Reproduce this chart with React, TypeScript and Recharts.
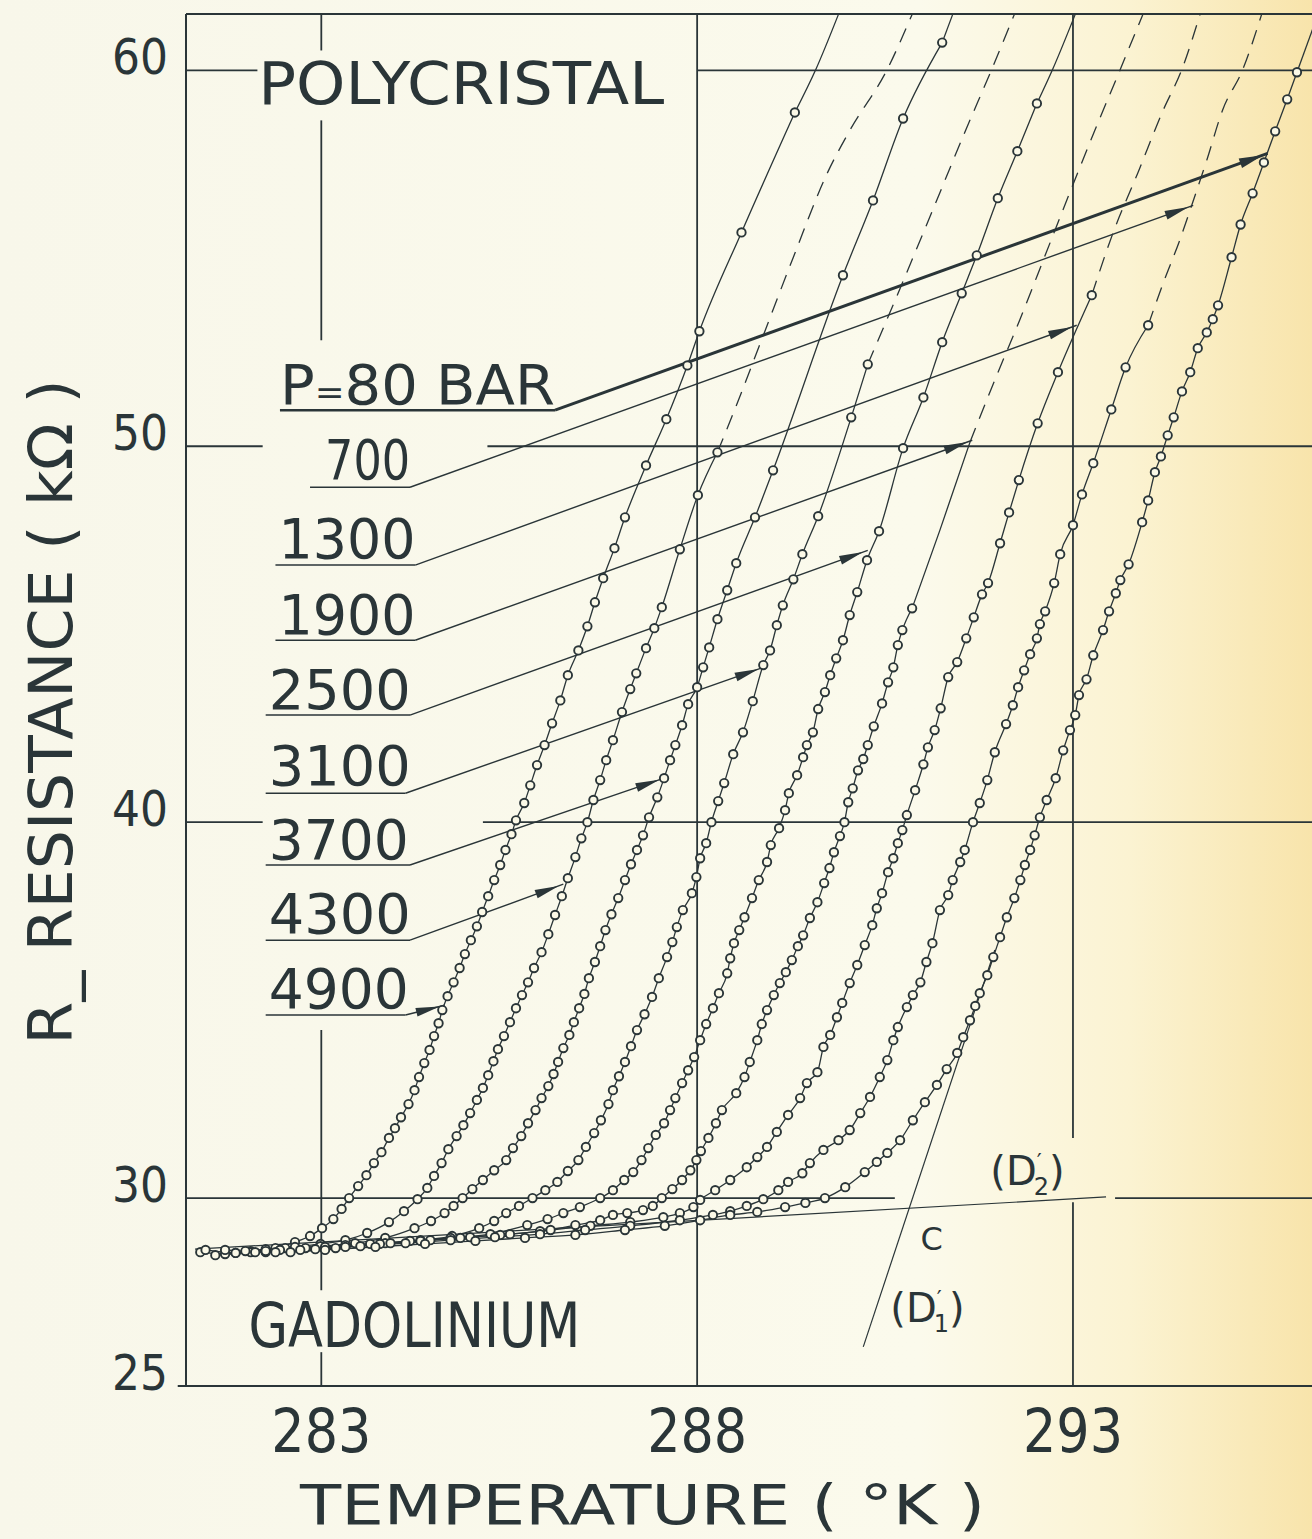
import React from 'react'
import {
  ComposedChart,
  Line,
  XAxis,
  YAxis,
  ReferenceLine,
  ReferenceDot,
  Label,
} from 'recharts'

const INK = '#2a3538'
const PAPER = '#fbf9e7'
const FONT = '"DejaVu Sans", "Liberation Sans", sans-serif'

// axes
const T_MIN = 281.2
const T_MAX = 296.18
const R_MIN = 25
const R_MAX = 61.5
const xTicks = [283, 288, 293]
const yTicks = [25, 30, 40, 50, 60]

// measured points [T (K), R (kOhm)], one list per pressure (bar)
const p4900 = [
  [281.39, 28.56], [281.72, 28.51], [282.06, 28.59], [282.39, 28.67], [282.65, 28.83], [282.85, 28.99],
  [283.01, 29.2], [283.16, 29.44], [283.27, 29.71], [283.37, 30.0], [283.49, 30.32], [283.6, 30.61],
  [283.7, 30.93], [283.8, 31.22], [283.9, 31.6], [283.98, 31.86], [284.06, 32.15], [284.16, 32.5],
  [284.24, 32.87], [284.3, 33.22], [284.37, 33.59], [284.44, 33.94], [284.5, 34.31], [284.56, 34.65],
  [284.61, 35.0], [284.68, 35.37], [284.76, 35.74], [284.84, 36.12], [284.91, 36.49], [284.99, 36.86],
  [285.07, 37.23], [285.14, 37.61], [285.22, 38.03], [285.3, 38.46], [285.38, 38.86], [285.45, 39.26],
  [285.53, 39.68], [285.59, 40.05], [285.7, 40.51], [285.78, 40.98], [285.87, 41.52], [285.97, 42.05],
  [286.07, 42.63], [286.18, 43.24], [286.28, 43.91], [286.42, 44.57], [286.54, 45.21], [286.64, 45.85],
  [286.75, 46.49], [286.9, 47.29], [287.04, 48.11], [287.32, 49.49], [287.59, 50.72], [287.87, 52.15],
  [288.03, 53.06], [288.59, 55.69], [289.3, 58.88],
]
const p4300 = [
  [281.46, 28.62], [281.86, 28.54], [282.26, 28.64], [282.65, 28.7], [282.99, 28.78], [283.32, 28.88],
  [283.61, 29.07], [283.9, 29.36], [284.1, 29.65], [284.28, 29.97], [284.41, 30.27], [284.5, 30.59],
  [284.6, 30.93], [284.69, 31.3], [284.8, 31.65], [284.89, 31.94], [284.98, 32.26], [285.07, 32.61],
  [285.15, 32.93], [285.22, 33.27], [285.29, 33.64], [285.35, 33.96], [285.43, 34.31], [285.51, 34.68],
  [285.59, 35.05], [285.67, 35.4], [285.75, 35.74], [285.83, 36.12], [285.93, 36.54], [286.02, 37.02],
  [286.11, 37.53], [286.2, 38.03], [286.28, 38.51], [286.38, 39.07], [286.46, 39.57], [286.54, 40.0],
  [286.62, 40.59], [286.71, 41.12], [286.79, 41.65], [286.88, 42.18], [287.0, 42.93], [287.11, 43.54],
  [287.19, 43.96], [287.32, 44.63], [287.43, 45.16], [287.53, 45.72], [287.77, 47.26], [288.01, 48.7],
  [288.27, 49.84],
]
const p3700 = [
  [281.59, 28.48], [282.06, 28.56], [282.52, 28.67], [282.99, 28.72], [283.45, 28.8], [283.85, 28.94],
  [284.24, 29.2], [284.46, 29.39], [284.64, 29.6], [284.76, 29.79], [284.88, 30.0], [285.01, 30.24],
  [285.15, 30.48], [285.3, 30.74], [285.46, 31.01], [285.55, 31.33], [285.66, 31.65], [285.75, 31.99],
  [285.85, 32.34], [285.93, 32.66], [286.02, 32.98], [286.09, 33.3], [286.15, 33.62], [286.22, 33.99],
  [286.3, 34.34], [286.36, 34.68], [286.43, 35.05], [286.5, 35.43], [286.56, 35.85], [286.64, 36.28],
  [286.71, 36.7], [286.78, 37.13], [286.86, 37.55], [286.95, 37.98], [287.04, 38.46], [287.12, 38.88],
  [287.2, 39.26], [287.28, 39.65], [287.36, 40.13], [287.47, 40.66], [287.56, 41.17], [287.64, 41.65],
  [287.71, 42.05], [287.8, 42.58], [287.88, 43.14], [288.0, 43.59], [288.08, 44.12], [288.16, 44.65],
  [288.27, 45.4], [288.4, 46.17], [288.52, 46.89], [288.77, 48.11], [289.01, 49.36], [289.94, 54.55],
  [290.34, 56.54], [290.74, 58.72], [291.26, 60.74],
]
const p3100 = [
  [281.72, 28.62], [282.26, 28.56], [282.79, 28.67], [283.32, 28.75], [283.85, 28.8], [284.32, 28.88],
  [284.74, 28.99], [285.1, 29.2], [285.3, 29.39], [285.46, 29.6], [285.63, 29.79], [285.81, 30.0],
  [285.98, 30.21], [286.14, 30.43], [286.28, 30.72], [286.42, 31.01], [286.52, 31.36], [286.63, 31.73],
  [286.72, 32.07], [286.82, 32.5], [286.88, 32.87], [286.96, 33.24], [287.04, 33.62], [287.12, 34.04],
  [287.2, 34.47], [287.3, 34.89], [287.4, 35.35], [287.49, 35.85], [287.6, 36.41], [287.67, 36.81],
  [287.73, 37.21], [287.81, 37.66], [287.93, 38.11], [287.99, 38.54], [288.04, 39.04], [288.12, 39.44],
  [288.19, 40.0], [288.28, 40.56], [288.36, 41.04], [288.48, 41.81], [288.61, 42.39], [288.74, 43.22],
  [288.88, 44.18], [288.97, 44.57], [289.06, 45.24], [289.14, 45.77], [289.28, 46.46], [289.4, 47.13],
  [289.61, 48.14], [290.05, 50.77], [290.27, 52.18],
]
const p2500 = [
  [281.86, 28.54], [282.45, 28.62], [283.05, 28.7], [283.65, 28.78], [284.18, 28.86], [284.72, 28.94],
  [285.25, 29.04], [285.74, 29.28], [286.01, 29.44], [286.22, 29.6], [286.44, 29.76], [286.71, 30.0],
  [286.88, 30.21], [287.03, 30.48], [287.15, 30.69], [287.26, 31.01], [287.35, 31.33], [287.45, 31.68],
  [287.56, 31.99], [287.64, 32.34], [287.71, 32.66], [287.8, 33.06], [287.88, 33.4], [287.96, 33.75],
  [288.04, 34.2], [288.12, 34.63], [288.21, 35.05], [288.29, 35.45], [288.4, 35.98], [288.44, 36.38],
  [288.49, 36.78], [288.56, 37.13], [288.63, 37.47], [288.73, 37.98], [288.82, 38.46], [288.93, 38.94],
  [288.98, 39.39], [289.09, 39.84], [289.17, 40.32], [289.22, 40.77], [289.33, 41.25], [289.41, 41.73],
  [289.46, 42.05], [289.54, 42.39], [289.61, 43.01], [289.7, 43.46], [289.77, 43.91], [289.85, 44.36],
  [289.94, 44.84], [290.03, 45.51], [290.13, 46.12], [290.26, 46.97], [290.42, 47.74], [290.74, 49.95],
  [291.01, 51.3], [291.26, 52.77], [291.52, 54.07], [291.72, 55.08], [292.0, 56.6], [292.26, 57.85],
  [292.52, 59.12],
]
const p1900 = [
  [281.99, 28.59], [282.59, 28.56], [283.19, 28.67], [283.78, 28.78], [284.32, 28.86], [284.85, 28.94],
  [285.38, 29.02], [285.91, 29.12], [286.38, 29.28], [286.71, 29.41], [286.88, 29.55], [287.07, 29.6],
  [287.28, 29.68], [287.41, 29.79], [287.53, 30.0], [287.67, 30.24], [287.8, 30.48], [287.91, 30.74],
  [287.99, 31.01], [288.05, 31.25], [288.15, 31.6], [288.25, 31.99], [288.33, 32.34], [288.52, 32.79],
  [288.63, 33.22], [288.7, 33.62], [288.8, 34.2], [288.86, 34.63], [288.93, 35.0], [289.02, 35.4],
  [289.1, 35.72], [289.18, 36.01], [289.26, 36.33], [289.34, 36.7], [289.41, 36.99], [289.5, 37.45],
  [289.6, 37.87], [289.69, 38.38], [289.76, 38.78], [289.82, 39.2], [289.9, 39.63], [289.96, 40.0],
  [290.01, 40.53], [290.07, 40.9], [290.14, 41.38], [290.21, 41.68], [290.27, 42.05], [290.35, 42.55],
  [290.46, 43.16], [290.54, 43.72], [290.61, 44.12], [290.67, 44.71], [290.73, 45.11], [290.86, 45.69],
]
const p1300 = [
  [282.12, 28.56], [282.72, 28.62], [283.32, 28.7], [283.92, 28.8], [284.45, 28.88], [284.98, 28.96],
  [285.51, 29.04], [286.05, 29.15], [286.58, 29.26], [287.11, 29.36], [287.55, 29.49], [287.77, 29.6],
  [287.95, 29.76], [288.04, 29.95], [288.24, 30.21], [288.44, 30.48], [288.66, 30.82], [288.8, 31.09],
  [288.93, 31.36], [289.06, 31.76], [289.21, 32.21], [289.37, 32.66], [289.46, 33.06], [289.6, 33.35],
  [289.68, 34.02], [289.77, 34.34], [289.86, 34.81], [289.93, 35.19], [290.03, 35.72], [290.13, 36.2],
  [290.23, 36.73], [290.33, 37.26], [290.39, 37.71], [290.46, 38.11], [290.54, 38.67], [290.61, 39.04],
  [290.67, 39.44], [290.73, 39.79], [290.79, 40.19], [290.9, 40.85], [291.01, 41.54], [291.07, 41.99],
  [291.16, 42.45], [291.24, 43.03], [291.34, 43.86], [291.46, 44.26], [291.58, 44.89], [291.68, 45.45],
  [291.79, 46.06], [291.87, 46.36], [292.03, 47.42], [292.15, 48.24], [292.28, 49.1], [292.53, 50.61],
  [292.8, 51.97], [293.25, 54.02],
]
const p700 = [
  [282.26, 28.59], [282.92, 28.64], [283.52, 28.72], [284.12, 28.8], [284.72, 28.88], [285.31, 28.96],
  [285.91, 29.04], [286.51, 29.15], [287.11, 29.26], [287.77, 29.41], [288.21, 29.55], [288.44, 29.65],
  [288.66, 29.79], [288.88, 29.97], [289.08, 30.21], [289.21, 30.43], [289.4, 30.66], [289.5, 30.93],
  [289.68, 31.28], [289.88, 31.54], [290.03, 31.81], [290.17, 32.26], [290.3, 32.69], [290.43, 33.22],
  [290.53, 33.67], [290.61, 34.2], [290.67, 34.55], [290.79, 35.08], [290.87, 35.4], [290.97, 35.74],
  [291.05, 36.28], [291.13, 36.78], [291.23, 37.66], [291.34, 38.06], [291.4, 38.46], [291.5, 38.94],
  [291.56, 39.26], [291.67, 40.0], [291.76, 40.51], [291.86, 41.12], [291.96, 41.86], [292.11, 42.61],
  [292.2, 43.11], [292.27, 43.59], [292.35, 44.04], [292.43, 44.47], [292.52, 44.89], [292.56, 45.27],
  [292.63, 45.61], [292.75, 46.36], [292.83, 47.13], [293.0, 47.9], [293.12, 48.72], [293.27, 49.55],
  [293.51, 50.98], [293.7, 52.1], [294.0, 53.22],
]
const p80 = [
  [282.39, 28.56], [283.05, 28.62], [283.72, 28.7], [284.38, 28.78], [285.05, 28.86], [285.71, 28.94],
  [286.38, 29.02], [287.04, 29.15], [287.57, 29.26], [288.04, 29.41], [288.44, 29.55], [288.8, 29.63],
  [289.17, 29.76], [289.44, 29.87], [289.7, 30.0], [289.97, 30.29], [290.23, 30.69], [290.39, 30.96],
  [290.53, 31.2], [290.7, 31.54], [290.87, 32.07], [291.03, 32.55], [291.19, 33.01], [291.32, 33.43],
  [291.46, 33.86], [291.54, 34.28], [291.63, 34.73], [291.7, 35.11], [291.76, 35.45], [291.86, 35.93],
  [291.94, 36.41], [292.03, 36.94], [292.12, 37.47], [292.22, 37.98], [292.3, 38.46], [292.36, 38.86],
  [292.43, 39.26], [292.49, 39.65], [292.56, 40.13], [292.65, 40.59], [292.77, 41.17], [292.87, 41.91],
  [292.96, 42.45], [293.03, 42.85], [293.08, 43.38], [293.18, 43.8], [293.27, 44.44], [293.4, 45.11],
  [293.48, 45.61], [293.57, 46.09], [293.63, 46.44], [293.74, 46.86], [293.92, 47.98], [294.0, 48.56],
  [294.09, 49.31], [294.17, 49.73], [294.26, 50.29], [294.34, 50.77], [294.45, 51.46], [294.56, 51.97],
  [294.66, 52.61], [294.78, 53.03], [294.86, 53.38], [294.93, 53.75], [295.11, 55.03], [295.23, 55.9],
  [295.39, 56.73], [295.54, 57.55], [295.69, 58.38], [295.85, 59.23], [295.98, 59.95],
]

// drawn continuations above the last measured point
const tail4900 = [[289.3, 58.88], [289.58, 60.03], [289.88, 61.49]]
const tail3700 = [[291.26, 60.74], [291.4, 61.49]]
const tail2500 = [[292.52, 59.12], [292.73, 60.03], [293.03, 61.49]]
const tail1900 = [[290.86, 45.69], [291.23, 47.77], [291.63, 50.11]]
const tail80 = [[295.98, 59.95], [296.26, 61.49]]
const dash4300 = [[288.27, 49.84], [288.57, 51.33], [288.84, 52.74], [289.28, 55.03], [289.73, 57.26], [290.03, 58.4], [290.53, 60.03], [290.86, 61.49]]
const dash3100 = [[290.27, 52.18], [290.7, 54.2], [291.16, 56.41], [291.56, 58.35], [291.92, 60.03], [292.22, 61.49]]
const dash1900 = [[291.63, 50.11], [291.96, 51.76], [292.3, 53.4], [292.63, 55.08], [292.96, 56.76], [293.29, 58.4], [293.63, 60.03], [293.93, 61.49]]
const dash1300 = [[293.25, 54.02], [293.53, 55.66], [293.86, 57.26], [294.2, 58.94], [294.45, 60.03], [294.69, 61.49]]
const dash700 = [[294.0, 53.22], [294.2, 54.34], [294.42, 55.48], [294.58, 56.41], [294.78, 57.61], [294.99, 58.94], [295.26, 60.03], [295.51, 61.49]]

// construction lines
const lineD2 = [[281.32, 28.64], [293.44, 30.03]]
const lineD1 = [[290.21, 26.04], [291.96, 36.6]]

// pressure labels: text, underline (t0..t1 at r), arrow tip
const pressures = ['80', '700', '1300', '1900', '2500', '3100', '3700', '4300', '4900']
const labelT = [282.45, 283.05, 282.43, 282.43, 282.3, 282.3, 282.3, 282.3, 282.3]
const labelR = [51.12, 49.12, 47.02, 45.0, 43.01, 40.99, 39.02, 37.05, 35.05]
const labelW = [275, 85, 137, 137, 142, 142, 140, 142, 140]
const lineR = [50.96, 48.91, 46.84, 44.84, 42.85, 40.77, 38.86, 36.86, 34.87]
const lineT0 = [282.45, 282.85, 282.39, 282.39, 282.26, 282.26, 282.26, 282.26, 282.26]
const lineT1 = [286.11, 284.18, 284.25, 284.25, 284.18, 284.12, 284.18, 284.18, 284.12]
const tipT = [295.59, 294.6, 293.05, 291.66, 290.27, 288.88, 287.56, 286.22, 284.64]
const tipR = [57.79, 56.41, 53.22, 50.16, 47.23, 44.12, 41.17, 38.35, 35.13]

// grid pieces (broken where the lettering sits)
const hGrid = [
  [60, 281.2, 282.15], [60, 288.01, 296.18],
  [50, 281.2, 282.22], [50, 285.21, 296.18],
  [40, 281.2, 282.22], [40, 285.15, 296.18],
  [30, 281.2, 290.63], [30, 293.56, 296.18],
]
const vGrid = [
  [283, 60.53, 61.5], [283, 52.82, 58.67], [283, 27.55, 34.47], [283, 25, 25.9],
  [288, 25, 61.5],
  [293, 25, 29.89], [293, 31.6, 61.5],
]

const toPts = (a: number[][]) => a.map(([t, r]) => ({ t, r }))

const measured = [p4900, p4300, p3700, p3100, p2500, p1900, p1300, p700, p80].map(toPts)
const solidTails = [tail4900, tail3700, tail2500, tail1900, tail80].map(toPts)
const dashedTails = [dash4300, dash3100, dash1900, dash1300, dash700].map(toPts)

const XTick = (p: any) => (
  <text x={p.x} y={p.y + 66} textAnchor="middle" fontSize={60} fontFamily={FONT} fill={INK}
    textLength={100} lengthAdjust="spacingAndGlyphs">
    {p.payload.value}
  </text>
)

const YTick = (p: any) => (
  <text x={p.x} y={p.y + 4} textAnchor="end" fontSize={50} fontFamily={FONT} fill={INK}
    textLength={56} lengthAdjust="spacingAndGlyphs">
    {p.payload.value}
  </text>
)

const XTitle = () => (
  <text x={300} y={1524} fontSize={56} fontFamily={FONT} fill={INK} textLength={685} lengthAdjust="spacingAndGlyphs">
    TEMPERATURE  ( °K )
  </text>
)

const YTitle = () => (
  <text transform="translate(72,712) rotate(-90)" textAnchor="middle" fontSize={60} fontFamily={FONT} fill={INK}
    textLength={665} lengthAdjust="spacingAndGlyphs">
    R_ RESISTANCE  ( kΩ )
  </text>
)

const arrowShape = (width: number) => (p: any) => {
  const { x1, y1, x2, y2 } = p
  const dx = x2 - x1
  const dy = y2 - y1
  const len = Math.hypot(dx, dy) || 1
  const ux = dx / len
  const uy = dy / len
  const tx = x2 - ux * 5
  const ty = y2 - uy * 5
  const bx = tx - ux * 24
  const by = ty - uy * 24
  const hw = width > 2 ? 5 : 4.5
  return (
    <g>
      <line x1={x1} y1={y1} x2={x2} y2={y2} stroke={INK} strokeWidth={width} />
      <polygon points={`${tx},${ty} ${bx - uy * hw},${by + ux * hw} ${bx + uy * hw},${by - ux * hw}`} fill={INK} />
    </g>
  )
}

const textShape = (label: React.ReactNode, size: number, width?: number) => (p: any) => (
  <text x={p.cx} y={p.cy} fontSize={size} fontFamily={FONT} fill={INK}
    textLength={width} lengthAdjust={width ? 'spacingAndGlyphs' : undefined}>
    {label}
  </text>
)

export default function App() {
  return (
    <div
      style={{
        position: 'absolute',
        left: 0,
        top: 0,
        width: 1312,
        height: 1539,
        overflow: 'hidden',
        background: 'linear-gradient(to right, #f8f7ea 0%, #fbfaec 70%, #fbf3d2 86%, #f8e4ab 100%)',
      }}
    >
      <ComposedChart width={1312} height={1539} margin={{ top: 14, right: 0, bottom: 93, left: 106 }}>
        <XAxis type="number" dataKey="t" domain={[T_MIN, T_MAX]} ticks={xTicks} allowDataOverflow
          axisLine={false} tickLine={false} tickSize={0} tickMargin={0} height={60} interval={0} tick={XTick}>
          <Label content={XTitle} />
        </XAxis>
        <YAxis type="number" dataKey="r" domain={[R_MIN, R_MAX]} ticks={yTicks} allowDataOverflow
          axisLine={false} tickLine={false} tickSize={0} tickMargin={18} width={80} interval={0} tick={YTick}>
          <Label content={YTitle} />
        </YAxis>

        {/* frame */}
        <ReferenceLine segment={[{ x: T_MIN, y: R_MIN }, { x: T_MIN, y: R_MAX }]} stroke={INK} strokeWidth={2} ifOverflow="visible" />
        <ReferenceLine segment={[{ x: T_MIN, y: R_MAX }, { x: T_MAX, y: R_MAX }]} stroke={INK} strokeWidth={2} ifOverflow="visible" />
        <ReferenceLine segment={[{ x: 281.09, y: R_MIN }, { x: T_MAX, y: R_MIN }]} stroke={INK} strokeWidth={2.2} ifOverflow="visible" />

        {hGrid.map(([r, a, b], i) => (
          <ReferenceLine key={`h${i}`} segment={[{ x: a, y: r }, { x: b, y: r }]} stroke={INK} strokeWidth={1.8} ifOverflow="visible" />
        ))}
        {vGrid.map(([t, a, b], i) => (
          <ReferenceLine key={`v${i}`} segment={[{ x: t, y: a }, { x: t, y: b }]} stroke={INK} strokeWidth={1.8} ifOverflow="visible" />
        ))}

        {/* D'2 and D'1 */}
        <ReferenceLine segment={[{ x: lineD2[0][0], y: lineD2[0][1] }, { x: lineD2[1][0], y: lineD2[1][1] }]} stroke={INK} strokeWidth={1.2} ifOverflow="visible" />
        <ReferenceLine segment={[{ x: lineD1[0][0], y: lineD1[0][1] }, { x: lineD1[1][0], y: lineD1[1][1] }]} stroke={INK} strokeWidth={1.2} ifOverflow="visible" />

        {/* label leaders */}
        {pressures.map((p, i) => (
          <ReferenceLine key={`u${p}`} segment={[{ x: lineT0[i], y: lineR[i] }, { x: lineT1[i], y: lineR[i] }]}
            stroke={INK} strokeWidth={i === 0 ? 2.4 : 1.4} ifOverflow="visible" />
        ))}
        {pressures.map((p, i) => (
          <ReferenceLine key={`a${p}`} segment={[{ x: lineT1[i], y: lineR[i] }, { x: tipT[i], y: tipR[i] }]}
            ifOverflow="visible" shape={arrowShape(i === 0 ? 3 : 1.4)} />
        ))}

        {/* curves */}
        {dashedTails.map((d, i) => (
          <Line key={`d${i}`} data={d} dataKey="r" type="monotone" stroke={INK} strokeWidth={1.3}
            strokeDasharray="15 10" dot={false} activeDot={false} isAnimationActive={false} />
        ))}
        {solidTails.map((d, i) => (
          <Line key={`s${i}`} data={d} dataKey="r" type="monotone" stroke={INK} strokeWidth={1.3}
            dot={false} activeDot={false} isAnimationActive={false} />
        ))}
        {measured.map((d, i) => (
          <Line key={`m${i}`} data={d} dataKey="r" type="monotone" stroke={INK} strokeWidth={1.3}
            dot={{ r: 4.2, fill: PAPER, stroke: INK, strokeWidth: 1.9 }} activeDot={false} isAnimationActive={false} />
        ))}

        {/* lettering */}
        <ReferenceDot x={282.16} y={59.1} r={0} ifOverflow="visible" shape={textShape('POLYCRISTAL', 58, 406)} />
        <ReferenceDot x={282.03} y={26.04} r={0} ifOverflow="visible" shape={textShape('GADOLINIUM', 62, 332)} />
        {pressures.map((p, i) => (
          <ReferenceDot key={`l${p}`} x={labelT[i]} y={labelR[i]} r={0} ifOverflow="visible"
            shape={textShape(
              i === 0 ? (
                <>
                  P<tspan fontSize={34}>=</tspan>80 BAR
                </>
              ) : p,
              55,
              labelW[i],
            )} />
        ))}
        <ReferenceDot x={291.9} y={30.35} r={0} ifOverflow="visible"
          shape={textShape(<>(D<tspan fontSize={22} dy={-16}>′</tspan><tspan fontSize={24} dx={-8} dy={26}>2</tspan><tspan dy={-10}>)</tspan></>, 40)} />
        <ReferenceDot x={290.97} y={28.62} r={0} ifOverflow="visible" shape={textShape('C', 32)} />
        <ReferenceDot x={290.57} y={26.7} r={0} ifOverflow="visible"
          shape={textShape(<>(D<tspan fontSize={22} dy={-16}>′</tspan><tspan fontSize={24} dx={-8} dy={26}>1</tspan><tspan dy={-10}>)</tspan></>, 40)} />
      </ComposedChart>
    </div>
  )
}
